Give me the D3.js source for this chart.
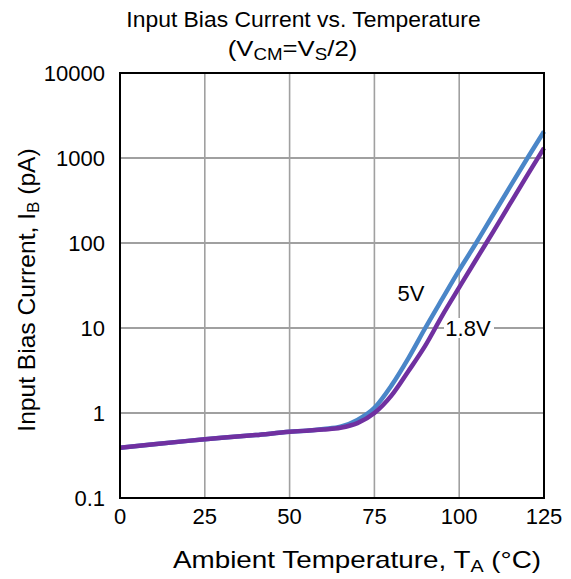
<!DOCTYPE html>
<html>
<head>
<meta charset="utf-8">
<script src="https://cdn.jsdelivr.net/npm/d3@7"></script>
<style>
  body { margin: 0; background: #fff; }
  text { font-family: "Liberation Sans", Arial, sans-serif; fill: #000; }
</style>
</head>
<body>
<div id="chart"></div>
<script>
var width = 571, height = 579;

// data
var temps = [0, 10, 20, 25, 30, 40, 50, 55, 60, 65, 70, 75, 80, 85, 90, 95, 100, 105, 110, 115, 120, 125];
var ib5v = [0.39, 0.43, 0.47, 0.49, 0.51, 0.55, 0.60, 0.62, 0.65, 0.69, 0.83, 1.15, 2.1, 4.4, 10, 22, 48, 100, 215, 460, 980, 2050];
var ib18v = [0.39, 0.43, 0.47, 0.49, 0.51, 0.55, 0.60, 0.62, 0.64, 0.67, 0.76, 1.0, 1.6, 3.1, 6.2, 14, 30, 64, 135, 290, 620, 1310];
var xTicks = [0, 25, 50, 75, 100, 125];
var yTicks = [0.1, 1, 10, 100, 1000, 10000];
var yTickLabels = ["0.1", "1", "10", "100", "1000", "10000"];

var plotL = 120, plotR = 544, plotT = 73, plotB = 498;

var svg = d3.select("#chart").append("svg")
  .attr("width", width)
  .attr("height", height);

var x = d3.scaleLinear().domain([0, 125]).range([plotL, plotR]);
var y = d3.scaleLog().domain([0.1, 10000]).range([plotB, plotT]);

// grid
svg.append("g").selectAll("line")
  .data(xTicks.slice(1, -1))
  .enter().append("line")
  .attr("x1", function(d){ return x(d); })
  .attr("x2", function(d){ return x(d); })
  .attr("y1", plotT).attr("y2", plotB)
  .attr("stroke", "#a0a0a0").attr("stroke-width", 1.6);
svg.append("g").selectAll("line")
  .data(yTicks.slice(1, -1))
  .enter().append("line")
  .attr("x1", plotL).attr("x2", plotR)
  .attr("y1", function(d){ return y(d); })
  .attr("y2", function(d){ return y(d); })
  .attr("stroke", "#a0a0a0").attr("stroke-width", 2);

// curves
var line = d3.line()
  .x(function(d){ return x(d[0]); })
  .y(function(d){ return y(d[1]); })
  .curve(d3.curveMonotoneX);

svg.append("path")
  .datum(d3.zip(temps, ib5v))
  .attr("d", line)
  .attr("fill", "none")
  .attr("stroke", "#4a86c8")
  .attr("stroke-width", 4.5);
svg.append("path")
  .datum(d3.zip(temps, ib18v))
  .attr("d", line)
  .attr("fill", "none")
  .attr("stroke", "#7030a0")
  .attr("stroke-width", 4.5);

// frame
svg.append("rect")
  .attr("x", plotL).attr("y", plotT)
  .attr("width", plotR - plotL).attr("height", plotB - plotT)
  .attr("fill", "none").attr("stroke", "#000").attr("stroke-width", 2);

// tick labels
svg.append("g").selectAll("text")
  .data(yTicks)
  .enter().append("text")
  .attr("x", 105)
  .attr("y", function(d){ return y(d) + 8; })
  .attr("text-anchor", "end")
  .style("font-size", "22px")
  .text(function(d, i){ return yTickLabels[i]; });

svg.append("g").selectAll("text")
  .data(xTicks)
  .enter().append("text")
  .attr("x", function(d){ return x(d); })
  .attr("y", 524)
  .attr("text-anchor", "middle")
  .style("font-size", "22px")
  .text(function(d){ return d; });

// curve labels
svg.append("text")
  .attr("x", 411).attr("y", 301)
  .attr("text-anchor", "middle")
  .style("font-size", "22px")
  .text("5V");
var lab = svg.append("g");
lab.append("rect")
  .attr("x", 444).attr("y", 318).attr("width", 50).attr("height", 20)
  .attr("fill", "#fff");
lab.append("text")
  .attr("x", 468).attr("y", 336)
  .attr("text-anchor", "middle")
  .style("font-size", "22px")
  .text("1.8V");

// stretched text helper (the reference type is wider than it is tall)
function stretched(tx, ty, sx, rot, size){
  var g = svg.append("g")
    .attr("transform", "translate(" + tx + "," + ty + ")" + (rot ? " rotate(" + rot + ")" : "") + " scale(" + sx + ",1)");
  return g.append("text")
    .attr("text-anchor", "middle")
    .style("font-size", size + "px");
}

// titles
stretched(303.5, 27, 1.04, 0, 22)
  .text("Input Bias Current vs. Temperature");

var t2 = stretched(292.5, 56, 1.17, 0, 22);
t2.append("tspan").text("(V");
t2.append("tspan").attr("dy", 4).style("font-size", "16px").text("CM");
t2.append("tspan").attr("dy", -4).text("=V");
t2.append("tspan").attr("dy", 4).style("font-size", "16px").text("S");
t2.append("tspan").attr("dy", -4).text("/2)");

var xt = stretched(357, 568, 1.16, 0, 24);
xt.append("tspan").text("Ambient Temperature, T");
xt.append("tspan").attr("dy", 4).style("font-size", "17px").text("A");
xt.append("tspan").attr("dy", -4).text(" (°C)");

var yt = stretched(35, 290, 1.07, -90, 23);
yt.append("tspan").text("Input Bias Current, I");
yt.append("tspan").attr("dy", 4).style("font-size", "16px").text("B");
yt.append("tspan").attr("dy", -4).text(" (pA)");
</script>
</body>
</html>
